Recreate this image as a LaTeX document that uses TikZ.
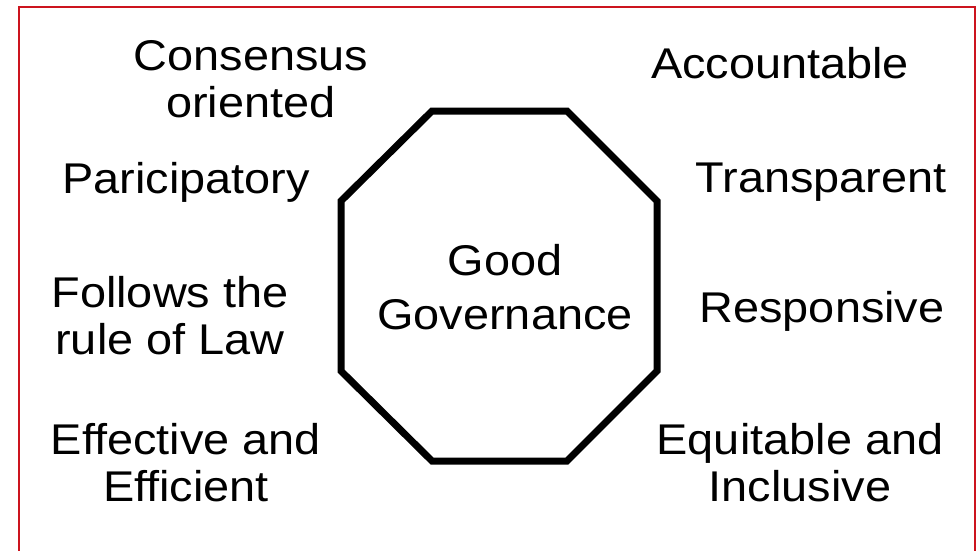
\documentclass[tikz,border=0pt]{standalone}
\usepackage{fontspec}
\setmainfont{Liberation Sans}
\definecolor{frame}{RGB}{204,20,30}
\tikzset{lbl/.style={anchor=base,align=center,inner sep=0pt,xscale=1.09,transform shape,
	font=\fontsize{43}{47}\selectfont}}
\begin{document}
\begin{tikzpicture}[x=1pt,y=1pt]
		\useasboundingbox(0,0)rectangle(978,-550);
		\draw[frame,line width=1.6pt](19,-7)rectangle(975,-570);
		\draw[line width=7pt,line join=miter](432,-111)coordinate(t1)--(567,-111)coordinate(t2)
			--(657,-201)--(657,-371)--(567,-461)--(432,-461)--(341,-371)--(341,-201)--cycle;
		\node[lbl,font=\fontsize{43}{54}\selectfont](gg)at(505,-329){Good\\Governance};
		\node[lbl](cons)at(251,-117){Consensus\\oriented};
		\node[lbl](part)at(186,-193){Paricipatory};
		\node[lbl](law)at(170,-354){Follows the\\rule of Law};
		\node[lbl](eff)at(186,-501){Effective and\\Efficient};
		\node[lbl](acc)at(780,-78){Accountable};
		\node[lbl](tra)at(821,-192){Transparent};
		\node[lbl](res)at(822,-322){Responsive};
		\node[lbl](equ)at(800,-501){Equitable and\\Inclusive};
	\end{tikzpicture}
\end{document}
